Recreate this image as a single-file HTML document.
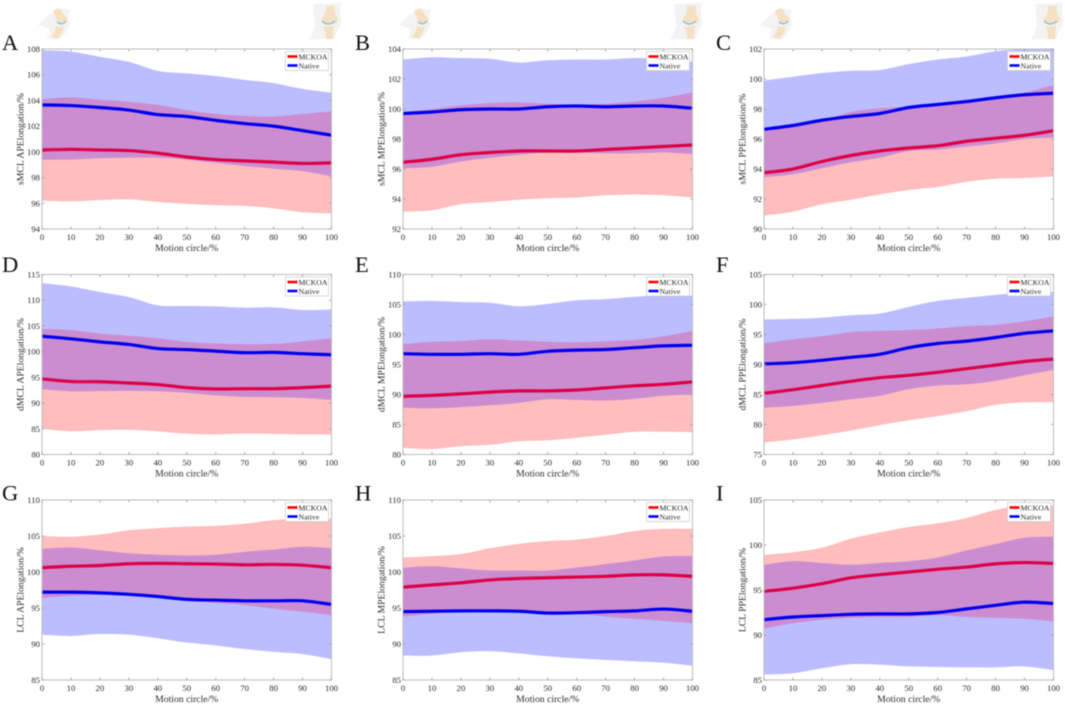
<!DOCTYPE html>
<html lang="en">
<head>
<meta charset="utf-8">
<title>Ligament elongation charts</title>
<style>
html,body{margin:0;padding:0;background:#fff;width:1065px;height:704px;overflow:hidden}
svg{display:block;filter:blur(.4px)}
text{font-family:"Liberation Serif",serif;fill:#2a2a2a}
</style>
</head>
<body>
<svg id="figure" xmlns="http://www.w3.org/2000/svg" width="1065" height="704" viewBox="0 0 1065 704"></svg>
<script>
const motionPercent = [0,10,20,30,40,50,60,70,80,90,100];
const xTickLabels = [0,10,20,30,40,50,60,70,80,90,100];
const seriesNames = ['MCKOA','Native'];

const aYTicks = [94,96,98,100,102,104,106,108];
const aRedUpper = [104.1,104.25,104.05,103.9,103.65,103.25,102.95,102.8,102.75,102.95,103.15];
const aRedMean = [100.15,100.2,100.15,100.1,99.9,99.6,99.4,99.3,99.2,99.1,99.15];
const aRedLower = [96.2,96.15,96.25,96.3,96.1,95.95,95.85,95.8,95.6,95.3,95.2];
const aBlueUpper = [107.9,107.8,107.4,107.0,106.3,106.1,105.9,105.6,105.35,104.9,104.6];
const aBlueMean = [103.65,103.6,103.45,103.25,102.9,102.75,102.45,102.2,102.0,101.65,101.3];
const aBlueLower = [99.4,99.4,99.5,99.55,99.55,99.4,99.15,98.9,98.7,98.5,98.1];

const bYTicks = [92,94,96,98,100,102,104];
const bRedUpper = [99.8,100.0,100.25,100.4,100.45,100.35,100.3,100.35,100.5,100.75,101.1];
const bRedMean = [96.45,96.65,96.95,97.1,97.2,97.2,97.2,97.3,97.4,97.5,97.6];
const bRedLower = [93.15,93.25,93.65,93.8,93.95,94.05,94.1,94.25,94.3,94.25,94.1];
const bBlueUpper = [103.3,103.45,103.4,103.35,103.1,103.25,103.3,103.3,103.4,103.35,103.15];
const bBlueMean = [99.7,99.8,99.95,100.0,100.0,100.15,100.2,100.15,100.2,100.2,100.05];
const bBlueLower = [96.05,96.15,96.5,96.75,96.95,97.1,97.1,97.05,97.05,97.1,97.0];

const cYTicks = [90,92,94,96,98,100,102];
const cRedUpper = [96.6,96.85,97.2,97.8,98.05,98.15,98.35,98.55,98.8,99.1,99.6];
const cRedMean = [93.75,94.0,94.5,94.9,95.2,95.4,95.55,95.85,96.05,96.25,96.55];
const cRedLower = [90.9,91.15,91.65,91.95,92.3,92.6,92.8,93.15,93.35,93.4,93.5];
const cBlueUpper = [99.9,100.15,100.4,100.55,100.6,101.0,101.3,101.5,101.85,102,102];
const cBlueMean = [96.65,96.9,97.25,97.5,97.7,98.1,98.3,98.5,98.75,98.95,99.05];
const cBlueLower = [93.45,93.65,94.05,94.45,94.75,95.2,95.3,95.5,95.7,96.0,96.1];

const dYTicks = [80,85,90,95,100,105,110,115];
const dRedUpper = [104.4,104.2,103.5,103.1,102.6,101.9,101.6,101.45,101.5,102.0,102.6];
const dRedMean = [94.7,94.2,94.15,93.9,93.6,93.0,92.75,92.8,92.8,93.0,93.3];
const dRedLower = [85.0,84.5,84.75,84.8,84.5,84.05,83.9,84.05,84.0,83.9,83.9];
const dBlueUpper = [113.3,112.7,111.6,110.6,109.0,108.9,108.8,108.55,108.6,108.1,108.2];
const dBlueMean = [103.0,102.5,101.9,101.4,100.6,100.4,100.1,99.8,99.85,99.6,99.4];
const dBlueLower = [92.7,92.3,92.35,92.4,92.3,92.0,91.5,91.2,91.15,91.0,90.6];

const eYTicks = [80,85,90,95,100,105,110];
const eRedUpper = [98.4,98.8,98.9,99.2,99.0,98.8,98.7,98.9,99.1,99.7,100.6];
const eRedMean = [89.7,89.85,90.1,90.4,90.6,90.6,90.75,91.1,91.45,91.7,92.1];
const eRedLower = [81.1,80.9,81.4,81.6,82.2,82.35,82.8,83.3,83.8,83.8,83.7];
const eBlueUpper = [105.5,105.6,105.4,105.3,104.7,105.1,105.7,105.9,106.3,106.5,106.5];
const eBlueMean = [96.8,96.7,96.7,96.8,96.7,97.2,97.4,97.5,97.8,98.1,98.2];
const eBlueLower = [87.8,87.7,87.9,88.2,88.6,89.2,89.1,89.0,89.3,89.8,90.0];

const fYTicks = [75,80,85,90,95,100,105];
const fRedUpper = [93.5,94.2,94.7,95.4,95.6,95.75,96.0,96.4,96.6,97.2,98.0];
const fRedMean = [85.2,85.8,86.5,87.2,87.8,88.2,88.7,89.3,89.9,90.5,90.9];
const fRedLower = [77.0,77.5,78.2,79.0,79.9,80.7,81.4,82.2,83.3,83.7,83.7];
const fBlueUpper = [97.5,97.6,97.8,98.2,98.5,99.6,100.6,101.1,101.6,102,102.1];
const fBlueMean = [90.1,90.3,90.7,91.2,91.7,92.8,93.5,93.9,94.5,95.2,95.6];
const fBlueLower = [82.8,83.1,83.6,84.2,84.8,85.9,86.5,86.7,87.3,88.2,89.1];

const gYTicks = [85,90,95,100,105,110];
const gRedUpper = [105.0,104.9,105.2,105.8,106.1,106.3,106.4,106.7,107.2,107.4,107.4];
const gRedMean = [100.6,100.8,100.9,101.15,101.2,101.15,101.1,101.0,101.05,100.95,100.6];
const gRedLower = [96.4,96.7,96.8,96.7,96.4,96.1,95.7,95.4,94.9,94.5,94.0];
const gBlueUpper = [103.2,103.4,103.0,102.6,102.4,102.3,102.4,102.8,103.1,103.5,103.3];
const gBlueMean = [97.2,97.2,97.1,96.9,96.6,96.2,96.1,96.0,96.0,96.0,95.5];
const gBlueLower = [91.3,91.1,91.4,91.3,90.8,90.2,89.8,89.3,88.9,88.6,87.9];

const hYTicks = [85,90,95,100,105,110];
const hRedUpper = [102.0,102.2,102.5,103.3,103.9,104.3,104.5,105.0,105.7,106.0,106.0];
const hRedMean = [97.9,98.2,98.5,98.9,99.1,99.2,99.3,99.4,99.6,99.6,99.4];
const hRedLower = [93.8,94.2,94.5,94.6,94.6,94.3,94.2,93.8,93.5,93.2,92.9];
const hBlueUpper = [100.6,100.8,100.5,100.2,100.2,100.2,100.6,101.1,101.6,102.15,102.2];
const hBlueMean = [94.5,94.55,94.6,94.6,94.55,94.3,94.35,94.5,94.6,94.85,94.55];
const hBlueLower = [88.4,88.4,88.85,89.0,88.7,88.3,88.0,87.8,87.6,87.4,87.0];

const iYTicks = [85,90,95,100,105];
const iRedUpper = [98.9,99.2,99.7,100.7,101.4,102.0,102.4,103.0,103.9,104.4,104.4];
const iRedMean = [94.85,95.2,95.7,96.35,96.7,97.0,97.3,97.55,97.9,98.05,97.95];
const iRedLower = [90.7,91.3,91.7,91.9,92.0,92.0,92.2,92.0,91.9,91.8,91.5];
const iBlueUpper = [97.8,98.2,98.0,97.8,98.0,98.2,98.6,99.4,100.1,100.8,100.9];
const iBlueMean = [91.7,92.0,92.15,92.3,92.35,92.35,92.5,92.9,93.3,93.65,93.5];
const iBlueLower = [85.6,85.75,86.3,86.75,86.7,86.5,86.45,86.4,86.4,86.5,86.1];

const panelLetters = ['A','B','C','D','E','F','G','H','I'];
const panelTitles = ['sMCL APElongation/%','sMCL MPElongation/%','sMCL PPElongation/%',
  'dMCL APElongation/%','dMCL MPElongation/%','dMCL PPElongation/%',
  'LCL APElongation/%','LCL MPElongation/%','LCL PPElongation/%'];
const panelTicks = [aYTicks,bYTicks,cYTicks,dYTicks,eYTicks,fYTicks,gYTicks,hYTicks,iYTicks];
const panelRedUpper = [aRedUpper,bRedUpper,cRedUpper,dRedUpper,eRedUpper,fRedUpper,gRedUpper,hRedUpper,iRedUpper];
const panelRedMean = [aRedMean,bRedMean,cRedMean,dRedMean,eRedMean,fRedMean,gRedMean,hRedMean,iRedMean];
const panelRedLower = [aRedLower,bRedLower,cRedLower,dRedLower,eRedLower,fRedLower,gRedLower,hRedLower,iRedLower];
const panelBlueUpper = [aBlueUpper,bBlueUpper,cBlueUpper,dBlueUpper,eBlueUpper,fBlueUpper,gBlueUpper,hBlueUpper,iBlueUpper];
const panelBlueMean = [aBlueMean,bBlueMean,cBlueMean,dBlueMean,eBlueMean,fBlueMean,gBlueMean,hBlueMean,iBlueMean];
const panelBlueLower = [aBlueLower,bBlueLower,cBlueLower,dBlueLower,eBlueLower,fBlueLower,gBlueLower,hBlueLower,iBlueLower];

const NS = 'http://www.w3.org/2000/svg';
const root = document.getElementById('figure');
const PW = 289.5, PH = 180;

function make(parent, tag, attrs, txt) {
  const el = document.createElementNS(NS, tag);
  for (const k in attrs) el.setAttribute(k, attrs[k]);
  if (txt !== undefined) el.textContent = txt;
  parent.appendChild(el);
  return el;
}
/* smooth curve through the data points (Catmull-Rom converted to cubic Bezier) */
function curveSegments(pts) {
  let d = '';
  for (let i = 0; i < pts.length - 1; i++) {
    const p0 = pts[Math.max(i - 1, 0)], p1 = pts[i], p2 = pts[i + 1], p3 = pts[Math.min(i + 2, pts.length - 1)];
    const c1x = p1[0] + (p2[0] - p0[0]) / 6, c1y = p1[1] + (p2[1] - p0[1]) / 6;
    const c2x = p2[0] - (p3[0] - p1[0]) / 6, c2y = p2[1] - (p3[1] - p1[1]) / 6;
    d += 'C' + c1x.toFixed(2) + ' ' + c1y.toFixed(2) + ' ' + c2x.toFixed(2) + ' ' + c2y.toFixed(2) + ' ' + p2[0].toFixed(2) + ' ' + p2[1].toFixed(2);
  }
  return d;
}
function linePath(xs, ys, sx, sy) {
  const pts = xs.map((v, i) => [sx(v), sy(ys[i])]);
  return 'M' + pts[0][0].toFixed(2) + ' ' + pts[0][1].toFixed(2) + curveSegments(pts);
}
function bandPath(xs, up, low, sx, sy) {
  const back = xs.map((v, i) => [sx(v), sy(low[i])]).reverse();
  return linePath(xs, up, sx, sy) + 'L' + back[0][0].toFixed(2) + ' ' + back[0][1].toFixed(2) + curveSegments(back) + 'Z';
}

function drawBentKnee(g) {
  make(g, 'path', {d:'M0 18 Q10 8 20 1 L32 3 Q28 10 32 16 Q30 24 22 32 L9 32 L12 22 Z', fill:'#f3f3f3'});
  make(g, 'path', {d:'M15 4 Q20 0 23 3 L26 8 Q31 12 28 16 Q24 18 20 16 Q17 10 15 4 Z', fill:'#f5e0c2'});
  make(g, 'path', {d:'M18 19 Q23 21 26 19 Q24 26 20 32 L13 30 Q17 25 18 19 Z', fill:'#f5e0c2'});
  make(g, 'path', {d:'M19 15 Q24 19 28 14', fill:'none', stroke:'#86c3d2', 'stroke-width':1.4});
}
function drawStraightKnee(g) {
  make(g, 'path', {d:'M7 1 L34 0 Q32 8 34 15 Q36 20 30 28 L27 36 L2 36 Q8 28 8 20 Q6 10 7 1 Z', fill:'#f3f3f3'});
  make(g, 'path', {d:'M19 3 L28 3 Q27 9 29 13 Q33 17 29 20 L19 21 Q13 19 16 14 Q20 9 19 3 Z', fill:'#f5e0c2'});
  make(g, 'path', {d:'M16 23 Q21 25 27 22 Q26 28 26 36 L19 36 Q19 28 16 23 Z', fill:'#f5e0c2'});
  make(g, 'path', {d:'M15 18 Q21 24 28 18', fill:'none', stroke:'#86c3d2', 'stroke-width':1.4});
}

function drawPanel(idx) {
  const col = idx % 3, row = Math.floor(idx / 3);
  const left = 42 + col * 361, top = 49 + row * 225.5;
  const ticks = panelTicks[idx];
  const yMin = ticks[0], yMax = ticks[ticks.length - 1];
  const sx = v => left + (v - motionPercent[0]) / (motionPercent[motionPercent.length - 1] - motionPercent[0]) * PW;
  const sy = v => top + PH - (v - yMin) / (yMax - yMin) * PH;
  const id = panelLetters[idx].toLowerCase();

  const panel = make(root, 'g', {});
  
  

  const letter = make(panel, 'text', {x: left - (col === 0 ? 40 : 48), y: top + (row === 0 ? 1 : row === 1 ? -2.5 : 0.5), 'font-size': 22.5, style: 'fill:#111'}, panelLetters[idx]);
  
  

  const defs = make(panel, 'defs', {});
  const clipRed = make(defs, 'clipPath', {id: 'clip-red-' + id});
  make(clipRed, 'path', {d: bandPath(motionPercent, panelRedUpper[idx], panelRedLower[idx], sx, sy)});
  const clipPlot = make(defs, 'clipPath', {id: 'clip-plot-' + id});
  make(clipPlot, 'rect', {x: left, y: top, width: PW, height: PH});

  const plot = make(panel, 'g', {'clip-path': 'url(#clip-plot-' + id + ')'});
  
  

  const redBand = make(plot, 'path', {d: bandPath(motionPercent, panelRedUpper[idx], panelRedLower[idx], sx, sy), fill: '#ffbdbd'});
  
  

  const blueBand = make(plot, 'path', {d: bandPath(motionPercent, panelBlueUpper[idx], panelBlueLower[idx], sx, sy), fill: '#bcbdff'});
  
  

  const overlap = make(plot, 'path', {d: bandPath(motionPercent, panelBlueUpper[idx], panelBlueLower[idx], sx, sy), fill: '#cb8dd0', 'clip-path': 'url(#clip-red-' + id + ')'});
  
  

  const frame = make(panel, 'rect', {x: left, y: top, width: PW, height: PH, fill: 'none', stroke: '#bdbdbd', 'stroke-width': 1});
  
  

  const redLine = make(plot, 'path', {d: linePath(motionPercent, panelRedMean[idx], sx, sy), fill: 'none', stroke: '#dd0044', 'stroke-width': 3.2, 'stroke-linejoin': 'round'});
  
  

  const blueLine = make(plot, 'path', {d: linePath(motionPercent, panelBlueMean[idx], sx, sy), fill: 'none', stroke: '#0000ee', 'stroke-width': 3.2, 'stroke-linejoin': 'round'});
  
  

  xTickLabels.forEach(v => {
    const x = sx(v);
    make(panel, 'path', {d: 'M' + x + ' ' + (top + PH) + 'v-2.5M' + x + ' ' + top + 'v2.5', stroke: '#9a9a9a', 'stroke-width': .8});
    const t = make(panel, 'text', {x: x, y: top + PH + 11, 'font-size': 8.7, 'text-anchor': 'middle'}, v);
    
    
  });
  ticks.forEach(v => {
    const y = sy(v);
    make(panel, 'path', {d: 'M' + left + ' ' + y + 'h2.5M' + (left + PW) + ' ' + y + 'h-2.5', stroke: '#9a9a9a', 'stroke-width': .8});
    const t = make(panel, 'text', {x: left - 2, y: y + 3, 'font-size': 8.7, 'text-anchor': 'end'}, v);
    
    
  });

  const xTitle = make(panel, 'text', {x: left + PW / 2, y: top + PH + 22, 'font-size': 9.7, 'text-anchor': 'middle'}, 'Motion circle/%');
  
  

  const yTitle = make(panel, 'text', {x: 0, y: 0, 'font-size': 9.7, 'text-anchor': 'middle', transform: 'translate(' + (left - 18.5) + ' ' + (top + PH / 2) + ') rotate(-90)'}, panelTitles[idx]);
  
  

  const legend = make(panel, 'g', {});
  
  
  const lx = left + PW - 46, ly = top + 2.5;
  make(legend, 'rect', {x: lx, y: ly, width: 43, height: 19, fill: '#fff', stroke: '#c8c8c8', 'stroke-width': .7});
  seriesNames.forEach((name, i) => {
    const yy = ly + 5 + i * 9;
    const color = i === 0 ? '#ff0000' : '#0000ff';
    const handle = make(legend, 'path', {d: 'M' + (lx + 2) + ' ' + yy + 'h10', stroke: color, 'stroke-width': 2.6});
    
    
    const label = make(legend, 'text', {x: lx + 13, y: yy + 2.8, 'font-size': 7.8}, name);
    
    
  });
}

for (let i = 0; i < 9; i++) drawPanel(i);

for (let c = 0; c < 3; c++) {
  const bent = make(root, 'g', {transform: 'translate(' + (38 + c * 361) + ' 7)'});
  
  
  drawBentKnee(bent);
  const straight = make(root, 'g', {transform: 'translate(' + (307 + c * 361) + ' 3)'});
  
  
  drawStraightKnee(straight);
}
</script>
</body>
</html>
